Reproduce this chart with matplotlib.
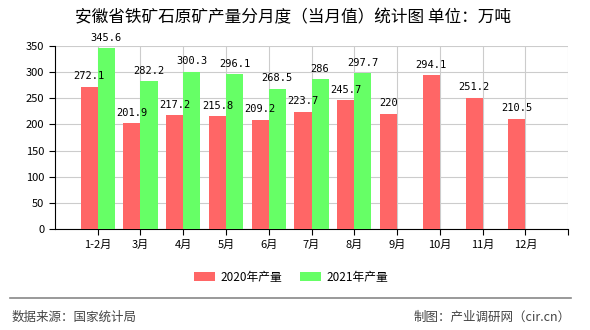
import matplotlib
matplotlib.use("Agg")
import matplotlib.pyplot as plt
import numpy as np

plt.rcParams['font.family'] = ['Noto Sans CJK SC', 'DejaVu Sans']

months = ["1-2月", "3月", "4月", "5月", "6月", "7月", "8月", "9月", "10月", "11月", "12月"]
output_2020 = [272.1, 201.9, 217.2, 215.8, 209.2, 223.7, 245.7, 220, 294.1, 251.2, 210.5]
output_2021 = [345.6, 282.2, 300.3, 296.1, 268.5, 286, 297.7]
yticks = [0, 50, 100, 150, 200, 250, 300, 350]


def fmt(v):
    return f"{v:g}"


def main():
    fig = plt.figure(figsize=(5.9, 3.3), dpi=100)
    ax = fig.add_axes([0.093, 0.306, 0.870, 0.555])

    w = 0.4
    x20 = np.arange(len(output_2020))
    x21 = np.arange(len(output_2021))
    ax.bar(x20 - w / 2, output_2020, width=w, color="#ff6666", label="2020年产量", zorder=3)
    ax.bar(x21 + w / 2, output_2021, width=w, color="#66ff66", label="2021年产量", zorder=3)

    # value labels above each bar
    for xs, vals in ((x20 - w / 2, output_2020), (x21 + w / 2, output_2021)):
        for x, v in zip(xs, vals):
            ax.annotate(fmt(v), (x, v), xytext=(0, 4), textcoords="offset points",
                        ha="center", va="bottom", fontsize=7.5,
                        family=["DejaVu Sans Mono"], zorder=4)

    ax.set_xlim(-1, len(months))
    ax.set_ylim(0, 350)
    ax.set_xticks(range(len(months) + 1))
    ax.set_xticklabels(months + [""], fontsize=8)
    ax.set_yticks(yticks)
    ax.tick_params(axis="y", labelsize=8, length=4, direction="out")
    ax.tick_params(axis="x", length=4, direction="out")
    ax.grid(True, color="#cccccc", linewidth=0.8, zorder=0)
    for s in ("top", "right"):
        ax.spines[s].set_visible(False)

    fig.text(0.497, 0.945, "安徽省铁矿石原矿产量分月度（当月值）统计图 单位：万吨",
             ha="center", va="center", fontsize=12)

    handles, labels = ax.get_legend_handles_labels()
    fig.legend(handles, labels, loc="center", bbox_to_anchor=(291 / 590, 1 - 277 / 330), ncol=2,
               frameon=False, fontsize=8.5, handlelength=1.8, handleheight=0.8,
               columnspacing=1.45, handletextpad=0.5)

    fig.add_artist(plt.Line2D([10 / 590, 571 / 590], [1 - 298 / 330, 1 - 298 / 330],
                              color="#888888", linewidth=1.2))
    fig.text(12 / 590, 1 - 317 / 330, "数据来源：国家统计局", ha="left", va="center",
             fontsize=9, color="#444444")
    fig.text(571 / 590, 1 - 317 / 330, "制图：产业调研网（cir.cn）", ha="right", va="center",
             fontsize=9, color="#444444")

    fig.savefig("out.png", dpi=100)


if __name__ == "__main__":
    main()
